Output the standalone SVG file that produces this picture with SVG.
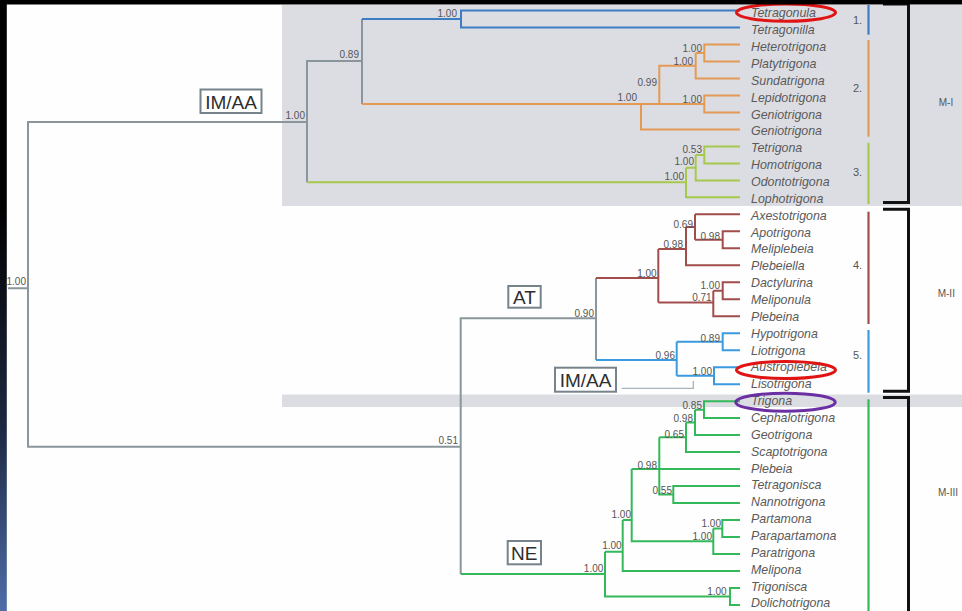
<svg xmlns="http://www.w3.org/2000/svg" width="962" height="611" viewBox="0 0 962 611">
  <defs>
    <linearGradient id="edgeFade" x1="0" y1="0" x2="0" y2="1">
      <stop offset="0" stop-color="#000"/>
      <stop offset="0.33" stop-color="#000"/>
      <stop offset="0.7" stop-color="#1d2842"/>
      <stop offset="1" stop-color="#4f6ea8"/>
    </linearGradient>
  </defs>
  <style>
    .br { fill: none; stroke-width: 2; stroke-linejoin: miter; }
    .gray { stroke: #8a969c; }
    .blue1 { stroke: #3c7dc4; }
    .orange { stroke: #e49a55; }
    .lgreen { stroke: #a6c84c; }
    .red { stroke: #a34c4c; }
    .blue5 { stroke: #3b9be0; }
    .green { stroke: #34b95a; }
    .taxon { font-family: "Liberation Sans", Arial, sans-serif; font-style: italic; font-size: 12.4px; fill: #5a5a5a; }
    .sup { font-family: "Liberation Sans", Arial, sans-serif; font-size: 10px; fill: #555; text-anchor: end; }
    .num { font-family: "Liberation Sans", Arial, sans-serif; font-size: 11px; fill: #555; }
    .mlab { font-family: "Liberation Sans", Arial, sans-serif; font-size: 10px; fill: #555; text-anchor: middle; }
    .box rect { fill: #fff; stroke: #76838a; stroke-width: 2; }
    .box text { font-family: "Liberation Sans", Arial, sans-serif; font-size: 19px; fill: #2e2e2e; text-anchor: middle; }
    .bar { stroke-width: 2.2; fill: none; }
    .bracket { fill: none; stroke: #111; stroke-width: 3; }
    .ring { fill: none; stroke-width: 3; }
  </style>

  <!-- background and shaded clade bands -->
  <rect x="0" y="0" width="962" height="611" fill="#fefefe"/>
  <rect x="282" y="5" width="680" height="201" fill="#dcdde3"/>
  <rect x="282" y="394.5" width="680" height="12.5" fill="#dcdde3"/>

  <!-- branches -->
  <g id="connectors">
    <path class="br gray" d="M8,288.3 H28 M307,122 H28 V446.7 H460.7 M362,61 H307 V182.3 M362,19 V104 M596,318.3 H460.7 V574 M596,278 V360"/>
    <path class="br blue1" d="M362,19 H461 M740,10.5 H461 V27.5 H740"/>
    <path class="br orange" d="M362,104 H704.3 M641,104 V129.4 H740 M659.3,104 V65.7 H695.7 M695.7,53 V78.4 H740 M695.7,53 H704.3 M740,44.5 H704.3 V61.5 H740 M740,95.4 H704.3 V112.4 H740"/>
    <path class="br lgreen" d="M307,182.3 H686 M686,167.7 V197.3 H740 M686,167.7 H695.7 M695.7,155 V180.4 H740 M695.7,155 H704.3 M740,146.4 H704.3 V163.4 H740"/>
    <path class="br red" d="M596,278 H658.3 M658.3,249 V302.5 M658.3,249 H686 M686,227 V265.3 H740 M686,227 H695 M695,214.3 V239.8 M740,214.3 H695 M695,239.8 H722.7 M740,231.3 H722.7 V248.3 H740 M658.3,302.5 H713.3 M713.3,290.8 V316.2 H740 M713.3,290.8 H722.7 M740,282.3 H722.7 V299.2 H740"/>
    <path class="br blue5" d="M596,360 H676.7 M676.7,341.7 V375.7 M676.7,341.7 H722.7 M740,333.2 H722.7 V350.2 H740 M676.7,375.7 H714 M740,367.2 H714 V384.2 H740"/>
    <path class="br green" d="M460.7,574 H605 M605,551.7 V596.5 H730 M740,588 H730 V605 H740 M605,551.7 H622.7 M622.7,520 V571 H740 M622.7,520 H631.7 M631.7,469.1 V541.3 H713.3 M631.7,469.1 H740 M713.3,528.6 V554 H740 M713.3,528.6 H722.3 M740,520.1 H722.3 V537 H740 M659.3,437.3 V494.6 H673.3 M740,486.1 H673.3 V503.1 H740 M659.3,437.3 H686 M686,422.4 V452.1 H740 M686,422.4 H695 M695,409.7 V435.1 H740 M695,409.7 H704 M740,401.2 H704 V418.1 H740"/>
    <path fill="none" stroke="#a9b3b8" stroke-width="1.3" d="M621.7,388.3 H693.3 V381"/>
  </g>

  <!-- support values -->
  <g id="support">
    <text class="sup" x="26" y="285">1.00</text>
    <text class="sup" x="305" y="119">1.00</text>
    <text class="sup" x="359" y="58">0.89</text>
    <text class="sup" x="457" y="16.6">1.00</text>
    <text class="sup" x="637" y="101">1.00</text>
    <text class="sup" x="657" y="86.3">0.99</text>
    <text class="sup" x="702" y="52">1.00</text>
    <text class="sup" x="693" y="65.3">1.00</text>
    <text class="sup" x="702" y="103">1.00</text>
    <text class="sup" x="702" y="152.6">0.53</text>
    <text class="sup" x="694" y="165.3">1.00</text>
    <text class="sup" x="684" y="180.3">1.00</text>
    <text class="sup" x="693" y="228">0.69</text>
    <text class="sup" x="720" y="239.6">0.98</text>
    <text class="sup" x="683" y="248">0.98</text>
    <text class="sup" x="656.7" y="277">1.00</text>
    <text class="sup" x="720" y="288.6">1.00</text>
    <text class="sup" x="711.7" y="301">0.71</text>
    <text class="sup" x="594" y="317">0.90</text>
    <text class="sup" x="720" y="342">0.89</text>
    <text class="sup" x="712" y="375.3">1.00</text>
    <text class="sup" x="675" y="358.6">0.96</text>
    <text class="sup" x="458" y="444.3">0.51</text>
    <text class="sup" x="702" y="409.3">0.85</text>
    <text class="sup" x="693" y="422">0.98</text>
    <text class="sup" x="684" y="438">0.65</text>
    <text class="sup" x="657" y="468.6">0.98</text>
    <text class="sup" x="672" y="493.6">0.55</text>
    <text class="sup" x="721" y="527">1.00</text>
    <text class="sup" x="712" y="540.3">1.00</text>
    <text class="sup" x="631" y="517.6">1.00</text>
    <text class="sup" x="621.7" y="548.6">1.00</text>
    <text class="sup" x="603.3" y="572">1.00</text>
    <text class="sup" x="726.7" y="595.3">1.00</text>
  </g>

  <!-- terminal taxa -->
  <g id="taxa">
    <g id="t-tetragonula"><text class="taxon" x="751" y="17.3">Tetragonula</text></g>
    <g id="t-tetragonilla"><text class="taxon" x="751" y="34.2">Tetragonilla</text></g>
    <g id="t-heterotrigona"><text class="taxon" x="751" y="51">Heterotrigona</text></g>
    <g id="t-platytrigona"><text class="taxon" x="751" y="67.9">Platytrigona</text></g>
    <g id="t-sundatrigona"><text class="taxon" x="751" y="84.7">Sundatrigona</text></g>
    <g id="t-lepidotrigona"><text class="taxon" x="751" y="101.6">Lepidotrigona</text></g>
    <g id="t-geniotrigona-a"><text class="taxon" x="751" y="118.5">Geniotrigona</text></g>
    <g id="t-geniotrigona-b"><text class="taxon" x="751" y="135.3">Geniotrigona</text></g>
    <g id="t-tetrigona"><text class="taxon" x="751" y="152.2">Tetrigona</text></g>
    <g id="t-homotrigona"><text class="taxon" x="751" y="169">Homotrigona</text></g>
    <g id="t-odontotrigona"><text class="taxon" x="751" y="185.9">Odontotrigona</text></g>
    <g id="t-lophotrigona"><text class="taxon" x="751" y="202.8">Lophotrigona</text></g>
    <g id="t-axestotrigona"><text class="taxon" x="751" y="219.6">Axestotrigona</text></g>
    <g id="t-apotrigona"><text class="taxon" x="751" y="236.5">Apotrigona</text></g>
    <g id="t-meliplebeia"><text class="taxon" x="751" y="253.3">Meliplebeia</text></g>
    <g id="t-plebeiella"><text class="taxon" x="751" y="270.2">Plebeiella</text></g>
    <g id="t-dactylurina"><text class="taxon" x="751" y="287.1">Dactylurina</text></g>
    <g id="t-meliponula"><text class="taxon" x="751" y="303.9">Meliponula</text></g>
    <g id="t-plebeina"><text class="taxon" x="751" y="320.8">Plebeina</text></g>
    <g id="t-hypotrigona"><text class="taxon" x="751" y="337.6">Hypotrigona</text></g>
    <g id="t-liotrigona"><text class="taxon" x="751" y="354.5">Liotrigona</text></g>
    <g id="t-austroplebeia"><text class="taxon" x="751" y="371.4">Austroplebeia</text></g>
    <g id="t-lisotrigona"><text class="taxon" x="751" y="388.2">Lisotrigona</text></g>
    <g id="t-trigona"><text class="taxon" x="751" y="405.1">Trigona</text></g>
    <g id="t-cephalotrigona"><text class="taxon" x="751" y="421.9">Cephalotrigona</text></g>
    <g id="t-geotrigona"><text class="taxon" x="751" y="438.8">Geotrigona</text></g>
    <g id="t-scaptotrigona"><text class="taxon" x="751" y="455.7">Scaptotrigona</text></g>
    <g id="t-plebeia"><text class="taxon" x="751" y="472.5">Plebeia</text></g>
    <g id="t-tetragonisca"><text class="taxon" x="751" y="489.4">Tetragonisca</text></g>
    <g id="t-nannotrigona"><text class="taxon" x="751" y="506.2">Nannotrigona</text></g>
    <g id="t-partamona"><text class="taxon" x="751" y="523.1">Partamona</text></g>
    <g id="t-parapartamona"><text class="taxon" x="751" y="540">Parapartamona</text></g>
    <g id="t-paratrigona"><text class="taxon" x="751" y="556.8">Paratrigona</text></g>
    <g id="t-melipona"><text class="taxon" x="751" y="573.7">Melipona</text></g>
    <g id="t-trigonisca"><text class="taxon" x="751" y="590.5">Trigonisca</text></g>
    <g id="t-dolichotrigona"><text class="taxon" x="751" y="607.4">Dolichotrigona</text></g>
  </g>

  <!-- highlighted genera -->
  <g id="highlights">
    <ellipse class="ring" cx="786" cy="12.6" rx="49.5" ry="8.6" stroke="#e11414"/>
    <ellipse class="ring" cx="786" cy="370" rx="49.5" ry="8.6" stroke="#e11414"/>
    <ellipse class="ring" cx="785.5" cy="402.2" rx="49.7" ry="9" stroke="#6b2fa3"/>
  </g>

  <!-- biogeographic region boxes -->
  <g id="box-imaa-top" class="box"><rect x="200.5" y="89.5" width="61" height="23.5"/><text x="231" y="108.5">IM/AA</text></g>
  <g id="box-at" class="box"><rect x="508.3" y="286" width="32.4" height="21.7"/><text x="524.5" y="303.5">AT</text></g>
  <g id="box-imaa-mid" class="box"><rect x="555" y="367.7" width="61" height="24"/><text x="585.5" y="386.5">IM/AA</text></g>
  <g id="box-ne" class="box"><rect x="507.7" y="541" width="33.3" height="23.3"/><text x="524.3" y="559.5">NE</text></g>

  <!-- clade bars and numbers -->
  <g id="clade-bars">
    <path class="bar" stroke="#3c7dc4" d="M868.5,5 V34.7"/>
    <path class="bar" stroke="#e49a55" d="M868.5,40 V136.7"/>
    <path class="bar" stroke="#a6c84c" d="M868.5,142.7 V204"/>
    <path class="bar" stroke="#a34c4c" d="M868.5,211.7 V324"/>
    <path class="bar" stroke="#3b9be0" d="M868.5,330 V392.7"/>
    <path class="bar" stroke="#34b95a" d="M868.5,399.3 V611"/>
    <text class="num" x="853" y="24">1.</text>
    <text class="num" x="853" y="92">2.</text>
    <text class="num" x="853" y="176">3.</text>
    <text class="num" x="853" y="269">4.</text>
    <text class="num" x="853" y="359">5.</text>
  </g>

  <!-- major lineage brackets -->
  <g id="lineages">
    <path class="bracket" d="M883,4 H908.5 V202.5 H883"/>
    <path class="bracket" d="M883,209.3 H908.5 V391.3 H883"/>
    <path class="bracket" d="M883,397.5 H908.5 V615"/>
    <text class="mlab" x="946" y="105.5">M-I</text>
    <text class="mlab" x="946.3" y="296.5">M-II</text>
    <text class="mlab" x="948" y="495.5">M-III</text>
  </g>

  <!-- frame edges -->
  <rect x="0" y="0" width="962" height="4.5" fill="#000"/>
  <rect x="0" y="0" width="6.8" height="611" fill="url(#edgeFade)"/>
</svg>
